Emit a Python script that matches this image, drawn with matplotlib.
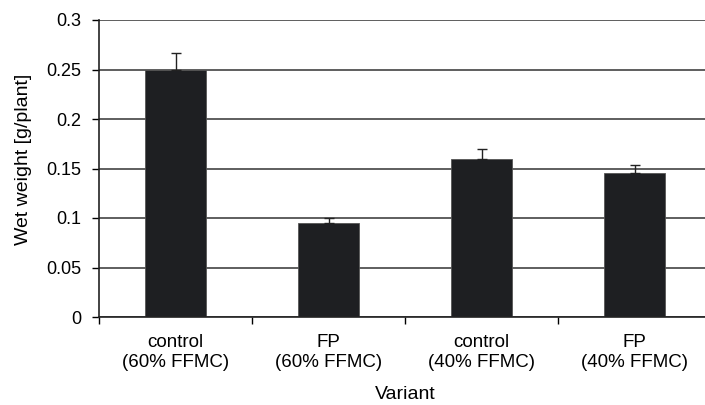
import numpy as np
import matplotlib.pyplot as plt
from matplotlib.ticker import FuncFormatter

plt.rcParams['font.family'] = ['Liberation Sans', 'DejaVu Sans']

categories = ["control\n(60% FFMC)", "FP\n(60% FFMC)", "control\n(40% FFMC)", "FP\n(40% FFMC)"]
wet_weight = [0.25, 0.095, 0.16, 0.145]
error = [0.017, 0.005, 0.010, 0.009]
yticks = [0, 0.05, 0.1, 0.15, 0.2, 0.25, 0.3]

W, H = 705, 405
fig = plt.figure(figsize=(W / 100, H / 100), dpi=100)
ax = fig.add_axes([99 / W, (H - 317) / H, 612 / W, (317 - 20) / H])

x = np.arange(len(categories))
dark = '#1e1f22'

ax.set_axisbelow(True)
ax.yaxis.grid(True, color='#333333', linewidth=1.1)
ax.bar(x, wet_weight, width=0.405, color=dark, edgecolor='#555555', linewidth=0.6, zorder=2)
ax.errorbar(x, wet_weight, yerr=[np.zeros(len(error)), error], fmt='none',
            ecolor='#222222', elinewidth=1, capsize=3.5, capthick=1, zorder=3)

ax.set_xlim(-0.5, len(categories) - 0.5)
ax.set_ylim(0, 0.3)
ax.set_yticks(yticks)
ax.yaxis.set_major_formatter(FuncFormatter(lambda v, p: '%g' % v))

ax.set_xticks(x)
ax.set_xticklabels(categories, fontsize=13.5, linespacing=1.25)
ax.set_xticks(np.arange(-0.5, len(categories), 1.0), minor=True)
ax.tick_params(axis='x', which='major', length=0, pad=12)
ax.tick_params(axis='x', which='minor', length=5, width=1, direction='out')
ax.tick_params(axis='y', length=5, width=1, direction='out', labelsize=13, pad=8)

for s in ['top', 'right']:
    ax.spines[s].set_visible(False)
for s in ['left', 'bottom']:
    ax.spines[s].set_color('#222222')
    ax.spines[s].set_linewidth(1.2)

ax.set_xlabel("Variant", fontsize=14)
ax.xaxis.set_label_coords(0.5, -0.232)
ax.set_ylabel("Wet weight [g/plant]", fontsize=14)
ax.yaxis.set_label_coords(-0.11, 0.53)

fig.savefig('out.png', dpi=100)
